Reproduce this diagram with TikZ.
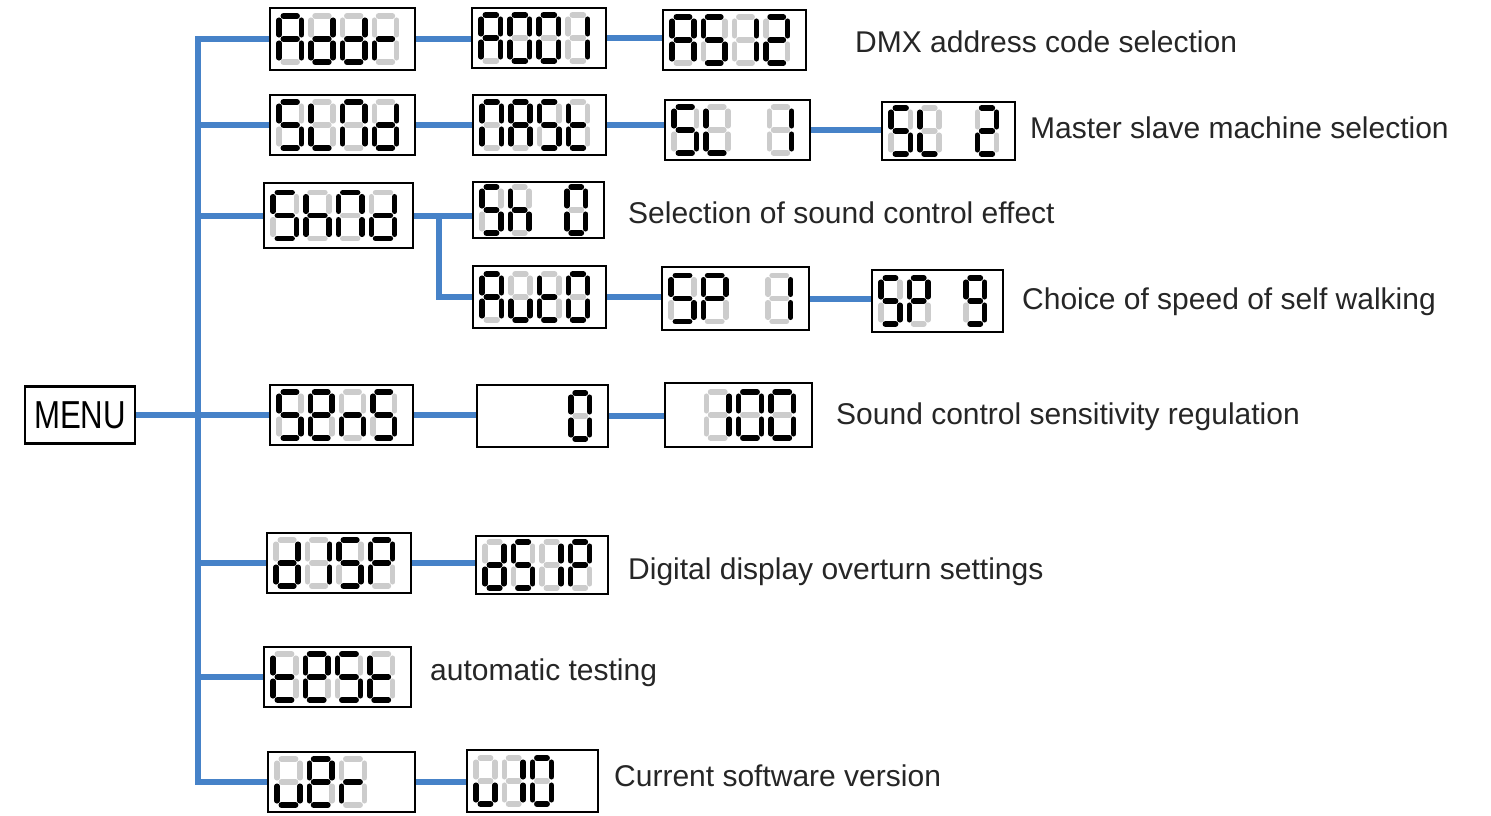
\documentclass[tikz,border=0pt]{standalone}
\usepackage{fontspec}
\setmainfont{Liberation Sans}
\usepackage{graphicx}
\usetikzlibrary{backgrounds}
\definecolor{connblue}{RGB}{70,130,200}
\tikzset{
 disp/.style={draw=black, line width=2.8pt, fill=white, inner sep=0pt},
 menubox/.style={draw=black, line width=2.5pt, fill=white, inner sep=0pt, minimum width=110pt, minimum height=57pt, font=\fontsize{39}{41}\selectfont},
 conn/.style={draw=connblue, line width=6pt},
 s1/.style={draw=black, line width=5.5pt, line cap=round},
 s0/.style={draw=black!20, line width=5.5pt, line cap=round},
 sx/.style={draw=none},
 lbl/.style={anchor=west, inner sep=0pt, text height=21pt, text depth=0pt, text=black!85, font=\fontsize{30}{32}\selectfont},
}
% segments a b c d e f g ; digit width \dw, height 46
\def\segs#1#2#3#4#5#6#7{%
 \draw[s#1] (4.2,0) -- ({\dw-4.2},0);
 \draw[s#2] (\dw,4.2) -- (\dw,18.8);
 \draw[s#3] (\dw,27.2) -- (\dw,41.8);
 \draw[s#4] (4.2,46) -- ({\dw-4.2},46);
 \draw[s#5] (0,27.2) -- (0,41.8);
 \draw[s#6] (0,4.2) -- (0,18.8);
 \draw[s#7] (4.2,23) -- ({\dw-4.2},23);
}
\newcommand\dispbox[9]{%
 \node[disp, minimum width=#4pt, minimum height=#5pt] (#1) at (#2,#3) {};
 \pgfmathsetmacro\dpitch{(#4-18)/4}%
 \pgfmathsetmacro\dw{\dpitch-9.5}%
 \pgfmathsetmacro\dxa{10.5}%
 \pgfmathsetmacro\dxb{10.5+\dpitch}%
 \pgfmathsetmacro\dxc{10.5+2*\dpitch}%
 \pgfmathsetmacro\dxd{10.5+3*\dpitch}%
 \begin{scope}[shift={(#1.west)}]
  \begin{scope}[xshift=\dxa pt, yshift=23pt]\segs#6\end{scope}
  \begin{scope}[xshift=\dxb pt, yshift=23pt]\segs#7\end{scope}
  \begin{scope}[xshift=\dxc pt, yshift=23pt]\segs#8\end{scope}
  \begin{scope}[xshift=\dxd pt, yshift=23pt]\segs#9\end{scope}
 \end{scope}%
}
\begin{document}
\begin{tikzpicture}[x=1pt,y=-1pt]
\useasboundingbox (0,0) rectangle (1491,815);
% display boxes: name, cx, cy, width, height, four digits (segments abcdefg)
\dispbox{addr}{342.5}{39}{145}{62}{1110111}{0111101}{0111101}{0000101}
\dispbox{aooi}{539}{38}{134}{60}{1110111}{1111110}{1111110}{0110000}
\dispbox{afive}{734.5}{40}{143}{60}{1110111}{1011011}{0110000}{1101101}
\dispbox{slnd}{342.5}{125}{145}{60}{1011011}{0001110}{1110110}{0111101}
\dispbox{mast}{539.5}{125}{133}{60}{1110110}{1110111}{1011011}{0001111}
\dispbox{stone}{737.5}{130}{145}{60}{1011011}{0001110}{xxxxxxx}{0110000}
\dispbox{sttwo}{948.5}{131}{133}{58}{1011011}{0001110}{xxxxxxx}{1101101}
\dispbox{shnd}{338.5}{215.5}{149}{65}{1011011}{0010111}{1110110}{0111101}
\dispbox{shz}{538.5}{210}{131}{56}{1011011}{0010111}{xxxxxxx}{1111110}
\dispbox{auto}{539.5}{297}{133}{62}{1110111}{0011100}{0001111}{1111110}
\dispbox{spone}{735.5}{298.5}{147}{63}{1011011}{1100111}{xxxxxxx}{0110000}
\dispbox{spnine}{937.5}{301}{131}{62}{1011011}{1100111}{xxxxxxx}{1111011}
\dispbox{sens}{341.5}{415}{143}{60}{1011011}{1101111}{0010101}{1011011}
\dispbox{zero}{542.5}{416}{131}{62}{xxxxxxx}{xxxxxxx}{xxxxxxx}{1111110}
\dispbox{hund}{738.5}{415}{147}{64}{xxxxxxx}{0110000}{1111110}{1111110}
\dispbox{disp}{339}{563}{144}{60}{0111101}{0110000}{1011011}{1100111}
\dispbox{dsip}{542}{565}{132}{58}{0111101}{1011011}{0110000}{1100111}
\dispbox{test}{337.5}{677}{147}{60}{0001111}{1101111}{1011011}{0001111}
\dispbox{uer}{341.5}{782}{147}{60}{0011100}{1101111}{0000101}{xxxxxxx}
\dispbox{uten}{532.5}{781}{131}{62}{0011100}{0110000}{1111110}{xxxxxxx}
% menu
\node[menubox] (menu) at (80,415) {\scalebox{0.8}[1]{MENU}};
% labels
\node[lbl] (l1) at (855,42) {DMX address code selection};
\node[lbl] (l2) at (1030,128) {Master slave machine selection};
\node[lbl] (l3) at (628,213) {Selection of sound control effect};
\node[lbl] (l4) at (1022,299) {Choice of speed of self walking};
\node[lbl] (l5) at (836,414) {Sound control sensitivity regulation};
\node[lbl] (l6) at (628,569) {Digital display overturn settings};
\node[lbl] (l7) at (430,670) {automatic testing};
\node[lbl] (l8) at (614,776) {Current software version};
% connectors
\begin{pgfonlayer}{background}
\fill[white] (0,0) rectangle (1491,815);
\coordinate (trunk) at (198,400);
\draw[conn] (addr.west) -| (trunk) |- (uer.west);
\foreach \n in {slnd,shnd,disp,test}
  \draw[conn] (trunk |- \n.west) -- (\n.west);
\draw[conn] (menu.east) -- (sens.west);
\draw[conn] (addr.east) -- (addr.east -| aooi.west);
\draw[conn] (aooi.east) -- (aooi.east -| afive.west);
\draw[conn] (slnd.east) -- (slnd.east -| mast.west);
\draw[conn] (mast.east) -- (mast.east -| stone.west);
\draw[conn] (stone.east) -- (stone.east -| sttwo.west);
\coordinate (split) at ([xshift=25pt]shnd.east);
\draw[conn] (shnd.east) -- (shnd.east -| shz.west);
\draw[conn] (split) |- (auto.west);
\draw[conn] (auto.east) -- (auto.east -| spone.west);
\draw[conn] (spone.east) -- (spone.east -| spnine.west);
\draw[conn] (sens.east) -- (sens.east -| zero.west);
\draw[conn] (zero.east) -- (zero.east -| hund.west);
\draw[conn] (disp.east) -- (disp.east -| dsip.west);
\draw[conn] (uer.east) -- (uer.east -| uten.west);
\end{pgfonlayer}
\end{tikzpicture}
\end{document}
